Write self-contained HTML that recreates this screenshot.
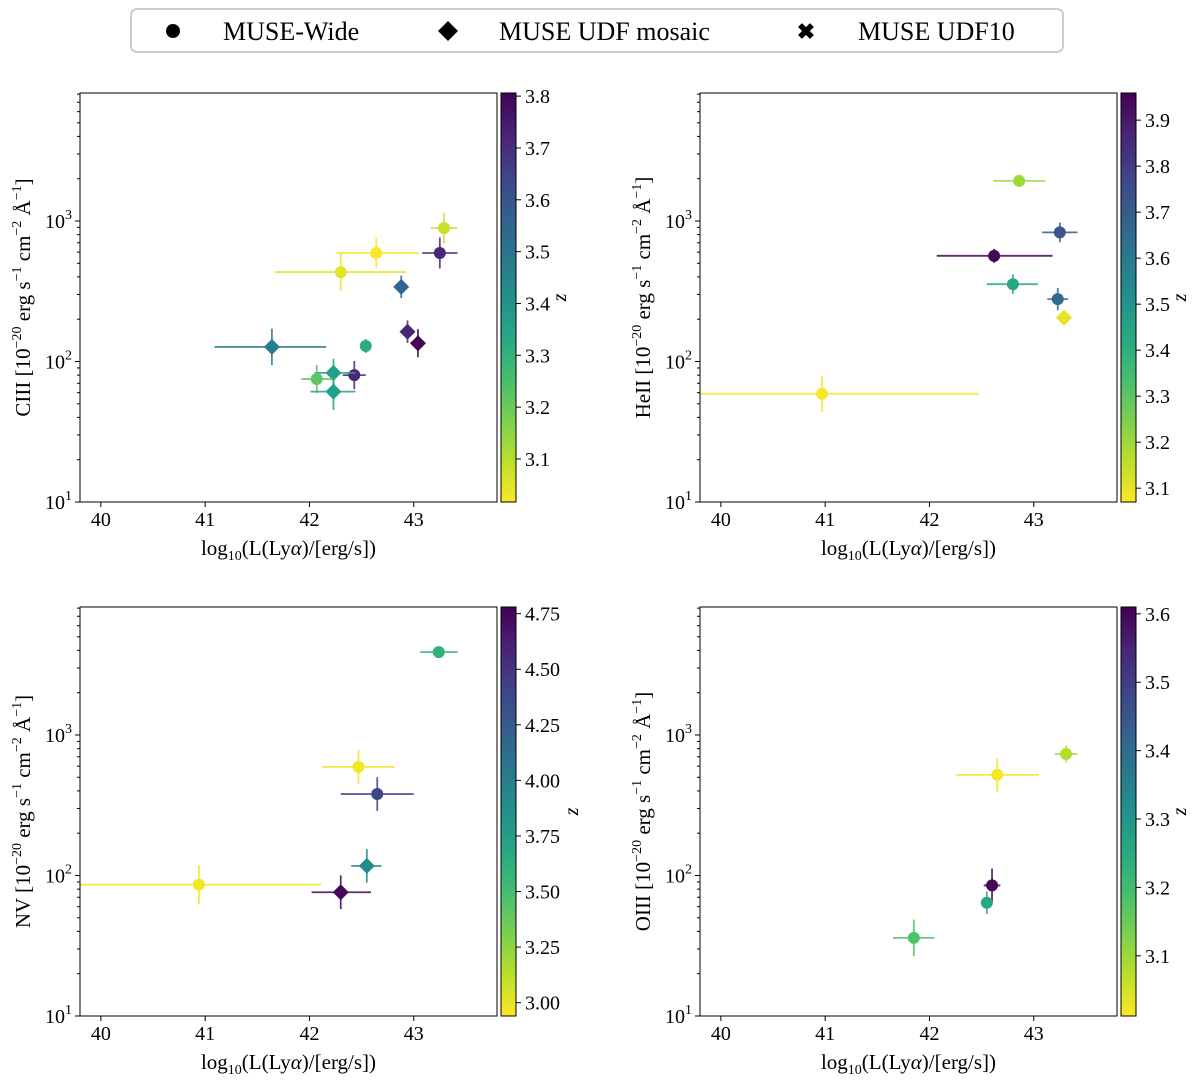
<!DOCTYPE html>
<html><head><meta charset="utf-8"><style>
body{margin:0;background:#fff;}
svg text{font-family:"Liberation Serif",serif;fill:#000;}
</style></head><body>
<svg id="fig" width="1200" height="1081" viewBox="0 0 1200 1081" xmlns="http://www.w3.org/2000/svg">
<g>
<rect x="131" y="9" width="932" height="43" rx="6" fill="#fff" stroke="#ccc" stroke-width="2"/>
<circle cx="173" cy="31" r="7" fill="#000"/>
<text x="223" y="40" font-size="26">MUSE-Wide</text>
<polygon points="448,21 458,31 448,41 438,31" fill="#000"/>
<text x="499" y="40" font-size="26">MUSE UDF mosaic</text>
<text x="806" y="39" font-size="22" text-anchor="middle" font-weight="bold">✖</text>
<text x="858" y="40" font-size="26">MUSE UDF10</text>
</g>
</svg>
<script>
// ---- data: CIII panel ----
const c3_x=[43.29,42.64,42.30,43.25,42.88,42.94,43.04,41.64,42.54,42.43,42.23,42.07,42.23];
const c3_xlo=[0.13,0.39,0.63,0.17,0,0,0,0.55,0.04,0.11,0.18,0.15,0.22];
const c3_xhi=[0.13,0.41,0.63,0.17,0,0,0,0.52,0.04,0.11,0.21,0.18,0.21];
const c3_y=[890,592,433,592,340,163,135,127,129,80,83,75,61];
const c3_ydex=[0.11,0.11,0.13,0.11,0.08,0.08,0.1,0.13,0.05,0.1,0.1,0.1,0.13];
const c3_z=[3.08,3.02,3.05,3.72,3.55,3.72,3.80,3.48,3.32,3.72,3.36,3.22,3.36];
const c3_m=["o","o","o","o","d","d","d","d","o","o","d","o","d"];
// ---- data: HeII panel ----
const he_x=[42.86,43.25,42.62,42.80,43.23,43.29,40.97];
const he_xlo=[0.25,0.17,0.55,0.25,0.1,0,1.2];
const he_xhi=[0.25,0.17,0.56,0.24,0.1,0,1.5];
const he_y=[1930,830,565,355,278,205,59];
const he_ydex=[0.02,0.07,0.05,0.07,0.08,0.03,0.13];
const he_z=[3.20,3.72,3.95,3.43,3.65,3.10,3.08];
const he_m=["o","o","o","o","o","d","o"];
// ---- data: NV panel ----
const nv_x=[43.24,42.47,42.65,42.55,40.94,42.30];
const nv_xlo=[0.18,0.35,0.35,0.15,1.2,0.28];
const nv_xhi=[0.18,0.35,0.35,0.14,1.17,0.29];
const nv_y=[3890,593,380,117,86,76];
const nv_ydex=[0.03,0.12,0.12,0.12,0.14,0.12];
const nv_z=[3.60,2.97,4.40,3.90,2.97,4.75];
const nv_m=["o","o","o","d","o","d"];
// ---- data: OIII panel ----
const o3_x=[43.31,42.65,42.60,42.55,41.85];
const o3_xlo=[0.11,0.4,0.08,0.05,0.2];
const o3_xhi=[0.11,0.4,0.08,0.05,0.2];
const o3_y=[733,520,85,64,36];
const o3_ydex=[0.06,0.12,0.12,0.08,0.13];
const o3_z=[3.08,3.02,3.60,3.25,3.18];
const o3_m=["o","o","o","o","o"];
// ---- tick labels ----
const xTicks=[40,41,42,43];
const yTicks=[1,2,3];
const c3_cbTicks=[3.1,3.2,3.3,3.4,3.5,3.6,3.7,3.8];
const he_cbTicks=[3.1,3.2,3.3,3.4,3.5,3.6,3.7,3.8,3.9];
const nv_cbTicks=[3.00,3.25,3.50,3.75,4.00,4.25,4.50,4.75];
const o3_cbTicks=[3.1,3.2,3.3,3.4,3.5,3.6];

const NS="http://www.w3.org/2000/svg";
const svg=document.getElementById('fig');
function mk(t,a,p){const e=document.createElementNS(NS,t);for(const k in a)e.setAttribute(k,a[k]);(p||svg).appendChild(e);return e;}
const VS=[[68,1,84],[72,40,120],[62,74,137],[49,104,142],[38,130,142],[31,158,137],[53,183,121],[109,205,89],[180,222,44],[253,231,37]];
function viridis(t){t=Math.max(0,Math.min(1,t));const f=t*9,i=Math.min(8,Math.floor(f)),r=f-i;const a=VS[i],b=VS[i+1];return `rgb(${[0,1,2].map(k=>Math.round(a[k]+(b[k]-a[k])*r)).join(',')})`;}

function panel(name,lbl,ox,oy,X,XLO,XHI,Y,YD,Z,M,cbT,zmin,zmax,dec){
  const L=ox+80,R=ox+497,T=oy+93,B=oy+502;
  const xs=v=>L+(v-39.8)*104.3;
  const ys=v=>B-(Math.log10(v)-1)*140.5;
  const ysl=l=>B-(l-1)*140.5;
  const g=mk('g',{});
  
  
  const cp=mk('clipPath',{id:'cp'+name},g);mk('rect',{x:L,y:T,width:R-L,height:B-T},cp);
  const pts=mk('g',{'clip-path':`url(#cp${name})`},g);
  for(let i=0;i<X.length;i++){
    const c=viridis((zmax-Z[i])/(zmax-zmin));
    const cx=xs(X[i]),cy=ys(Y[i]),ly=Math.log10(Y[i]);
    const pt=mk('g',{},pts);
    
    
    mk('line',{x1:xs(X[i]-XLO[i]),x2:xs(X[i]+XHI[i]),y1:cy,y2:cy,stroke:c,'stroke-width':1.8,opacity:0.85},pt);
    mk('line',{x1:cx,x2:cx,y1:ysl(ly-YD[i]),y2:ysl(ly+YD[i]),stroke:c,'stroke-width':1.8,opacity:0.85},pt);
    if(M[i]==='d')mk('polygon',{points:`${cx},${cy-8} ${cx+8},${cy} ${cx},${cy+8} ${cx-8},${cy}`,fill:c},pt);
    else mk('circle',{cx,cy,r:6,fill:c},pt);
  }
  const fr=mk('rect',{x:L,y:T,width:R-L,height:B-T,fill:'none',stroke:'#000','stroke-width':1},g);
  
  
  xTicks.forEach(v=>{const x=xs(v);mk('line',{x1:x,x2:x,y1:B,y2:B+5,stroke:'#000'},g);
    const t=mk('text',{x:x,y:B+24,'font-size':20,'text-anchor':'middle'},g);t.textContent=v;
    
    });
  for(let d=1;d<=3;d++)for(let k=2;k<=9;k++){const y=ysl(d+Math.log10(k));if(y>T)mk('line',{x1:L-3,x2:L,y1:y,y2:y,stroke:'#000'},g);}
  yTicks.forEach(v=>{const y=ysl(v);mk('line',{x1:L-5,x2:L,y1:y,y2:y,stroke:'#000'},g);
    const t=mk('text',{x:L-8,y:y+7,'font-size':20,'text-anchor':'end'},g);
    
    
    t.innerHTML=`10<tspan dy="-9" font-size="14">${v}</tspan>`;});
  const xl=mk('text',{x:(L+R)/2,y:B+53,'font-size':21,'text-anchor':'middle'},g);
  
  
  xl.innerHTML='log<tspan dy="5" font-size="14">10</tspan><tspan dy="-5">(L(Ly</tspan><tspan font-style="italic">α</tspan>)/[erg/s])';
  const yl=mk('text',{transform:`translate(${ox+30},${(T+B)/2}) rotate(-90)`,'font-size':21,'text-anchor':'middle'},g);
  
  
  yl.innerHTML=`${lbl} [10<tspan dy="-9" font-size="14">−20</tspan><tspan dy="9"> erg s</tspan><tspan dy="-9" font-size="14">−1</tspan><tspan dy="9"> cm</tspan><tspan dy="-9" font-size="14">−2</tspan><tspan dy="9"> Å</tspan><tspan dy="-9" font-size="14">−1</tspan><tspan dy="9">]</tspan>`;
  // colorbar
  const CL=ox+501,CW=15;
  const gid='grad'+name;
  const lg=mk('linearGradient',{id:gid,x1:0,y1:0,x2:0,y2:1},g);
  for(let s=0;s<=10;s++)mk('stop',{offset:s/10,'stop-color':viridis(s/10)},lg);
  const cb=mk('rect',{x:CL,y:T,width:CW,height:B-T,fill:`url(#${gid})`,stroke:'#000','stroke-width':1},g);
  
  
  cbT.forEach(v=>{const y=T+(zmax-v)/(zmax-zmin)*(B-T);mk('line',{x1:CL+CW,x2:CL+CW+5,y1:y,y2:y,stroke:'#000'},g);
    const t=mk('text',{x:CL+CW+9,y:y+7,'font-size':20},g);t.textContent=v.toFixed(dec);
    
    });
  const zl=mk('text',{transform:`translate(${ox+ (dec==2?578:566)},${(T+B)/2}) rotate(-90)`,'font-size':20,'font-style':'italic','text-anchor':'middle'},g);
  zl.textContent='z';
  
  
}
panel('ciii','CIII',0,0,c3_x,c3_xlo,c3_xhi,c3_y,c3_ydex,c3_z,c3_m,c3_cbTicks,3.017,3.806,1);
panel('heii','HeII',620,0,he_x,he_xlo,he_xhi,he_y,he_ydex,he_z,he_m,he_cbTicks,3.07,3.959,1);
panel('nv','NV',0,514,nv_x,nv_xlo,nv_xhi,nv_y,nv_ydex,nv_z,nv_m,nv_cbTicks,2.94,4.78,2);
panel('oiii','OIII',620,514,o3_x,o3_xlo,o3_xhi,o3_y,o3_ydex,o3_z,o3_m,o3_cbTicks,3.012,3.61,1);
</script>
</body></html>
